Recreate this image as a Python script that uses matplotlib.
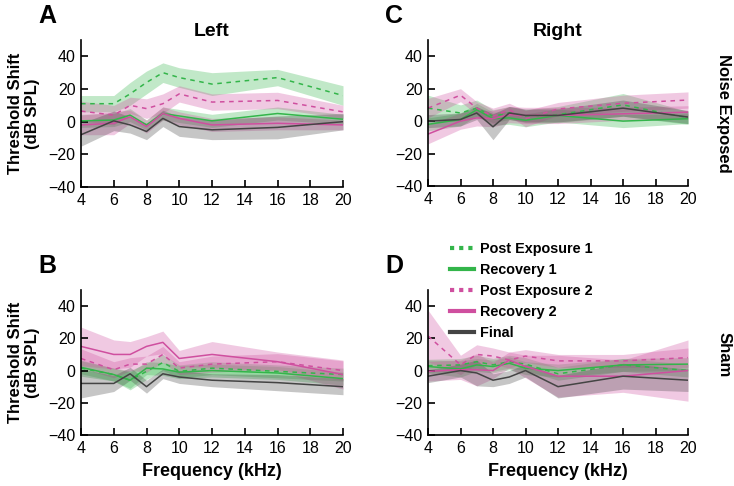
import matplotlib
matplotlib.use("Agg")
import matplotlib.pyplot as plt
from matplotlib.lines import Line2D
import numpy as np

plt.rcParams['font.family'] = ['Liberation Sans', 'DejaVu Sans']

# Frequencies tested (kHz)
FREQS = [4, 6, 7, 8, 9, 10, 12, 16, 20]

SERIES = ["Post Exposure 1", "Recovery 1", "Post Exposure 2", "Recovery 2", "Final"]

# Panel A - left ear, noise exposed
A_PE1 = [11, 11, 17, 24, 30, 27, 23, 27, 16]
A_PE1_ERR = [5, 5, 7, 7, 6, 6, 7, 5, 6]
A_R1 = [0.5, 1, 4, -2, 5, 3.5, 0.5, 5, 1.5]
A_R1_ERR = [4, 4, 4, 3, 4, 4, 4, 4, 3]
A_PE2 = [6.5, 4, 10, 8, 11, 17, 12, 13, 6]
A_PE2_ERR = [6, 6, 5, 6, 6, 5, 5, 5, 4]
A_R2 = [-2, -1, 3, -3, 5, 2, -2, -1, -2]
A_R2_ERR = [6, 7, 4, 4, 4, 4, 4, 4, 3]
A_FIN = [-8, 0.5, -2, -6, 2, -3, -5, -3.5, 0]
A_FIN_ERR = [7, 6, 5, 5, 5, 6, 6, 7, 5]

# Panel C - right ear, noise exposed
C_PE1 = [8, 5, 8, 3, 5, 3, 4, 10, 2]
C_PE1_ERR = [8, 5, 5, 4, 4, 4, 5, 7, 4]
C_R1 = [-2, 1, 7, 1.5, 2, 0.5, 3.5, 0, 1.5]
C_R1_ERR = [4, 4, 4, 4, 4, 4, 4, 4, 3]
C_PE2 = [8, 16, 8, 3, 7, 1.5, 7.5, 11, 13]
C_PE2_ERR = [6, 4, 4, 5, 4, 5, 4, 5, 5]
C_R2 = [-8, 0, 2, 1.5, 4, 3.5, 3.5, 4.5, 5.5]
C_R2_ERR = [6, 5, 5, 5, 5, 5, 5, 4, 4]
C_FIN = [0, 1, 5, -3.5, 5, 3.5, 3.5, 8, 2.5]
C_FIN_ERR = [4, 4, 4, 8, 4, 4, 4, 5, 4]

# Panel B - left ear, sham
B_PE1 = [1.5, -2.5, -6, -0.5, 5, -0.5, 1.5, -0.5, -2.5]
B_PE1_ERR = [5, 4, 6, 5, 5, 4, 4, 4, 4]
B_R1 = [2, -2.5, -6, 1.5, 1, -1, 0, -1.5, -5]
B_R1_ERR = [4, 4, 5, 4, 4, 4, 4, 4, 4]
B_PE2 = [7.5, 0.5, 4, 4, 10, 1.5, 4, 5.5, 0]
B_PE2_ERR = [6, 5, 4, 5, 5, 4, 5, 5, 6]
B_R2 = [15, 10, 10, 15, 17.5, 7.5, 10, 5.5, -2.5]
B_R2_ERR = [12, 9, 8, 6, 7, 5, 8, 6, 9]
B_FIN = [-8, -8, -2, -10, -2, -4, -6, -7.5, -10]
B_FIN_ERR = [9, 5, 4, 4, 3, 4, 4, 5, 5]

# Panel D - right ear, sham
D_PE1 = [3, 3.5, 5.5, 3.5, 5.5, 4, -2, 3.5, 0]
D_PE1_ERR = [4, 4, 4, 4, 4, 4, 4, 4, 4]
D_R1 = [2.5, 1, 3.5, 2.5, 4.5, 1.5, 0, 3.5, 4]
D_R1_ERR = [4, 5, 4, 4, 4, 4, 4, 4, 4]
D_PE2 = [21.5, 3.5, 10, 9, 6.5, 9, 6, 6, 8]
D_PE2_ERR = [16, 6, 6, 5, 5, 4, 4, 4, 6]
D_R2 = [-0.5, 0.5, 0.5, 0, 6.5, 2.5, -3.5, -3.5, 0]
D_R2_ERR = [6, 6, 10, 5, 5, 7, 13, 10, 19]
D_FIN = [-3.5, 0, -1.5, -6, -4, 0, -10, -3.5, -6]
D_FIN_ERR = [4, 4, 8, 4, 4, 4, 7, 8, 7]

GREEN = "#33b54a"
PINK = "#cf4f9f"
DARK = "#444444"
COLORS = [GREEN, GREEN, PINK, PINK, DARK]
STYLES = [(0, (3, 3)), "-", (0, (3, 3)), "-", "-"]
BAND_ALPHA = 0.3


def draw_panel(ax, means, errs):
    x = np.array(FREQS)
    for m, e, c in zip(means, errs, COLORS):
        m = np.array(m)
        e = np.array(e)
        ax.fill_between(x, m - e, m + e, color=c, alpha=BAND_ALPHA, lw=0)
    for m, c, ls in zip(means, COLORS, STYLES):
        ax.plot(x, m, color=c, ls=ls, lw=1.1)
    ax.set_xlim(4, 20)
    ax.set_ylim(-40, 50)
    ax.set_xticks(range(4, 21, 2))
    ax.set_yticks(range(-40, 41, 20))
    ax.spines['top'].set_visible(False)
    ax.spines['right'].set_visible(False)
    ax.spines['left'].set_linewidth(1.2)
    ax.spines['bottom'].set_linewidth(1.2)
    ax.tick_params(direction='in', length=5, width=1.2, labelsize=11.5, pad=4)


W, H = 734, 486
fig = plt.figure(figsize=(W / 100, H / 100), dpi=100)

def axes_px(left, right, top, bottom):
    return fig.add_axes([left / W, 1 - bottom / H, (right - left) / W, (bottom - top) / H])

axA = axes_px(81, 343, 40, 187)
axC = axes_px(428, 688, 40, 186)
axB = axes_px(81, 343, 290, 435)
axD = axes_px(428, 688, 290, 435)

draw_panel(axA, [A_PE1, A_R1, A_PE2, A_R2, A_FIN], [A_PE1_ERR, A_R1_ERR, A_PE2_ERR, A_R2_ERR, A_FIN_ERR])
draw_panel(axC, [C_PE1, C_R1, C_PE2, C_R2, C_FIN], [C_PE1_ERR, C_R1_ERR, C_PE2_ERR, C_R2_ERR, C_FIN_ERR])
draw_panel(axB, [B_PE1, B_R1, B_PE2, B_R2, B_FIN], [B_PE1_ERR, B_R1_ERR, B_PE2_ERR, B_R2_ERR, B_FIN_ERR])
draw_panel(axD, [D_PE1, D_R1, D_PE2, D_R2, D_FIN], [D_PE1_ERR, D_R1_ERR, D_PE2_ERR, D_R2_ERR, D_FIN_ERR])

# Titles, panel letters and labels
axA.set_title("Left", fontsize=14, fontweight='bold', pad=3)
axC.set_title("Right", fontsize=14, fontweight='bold', pad=3)
for ax in (axA, axB):
    ax.set_ylabel("Threshold Shift\n(dB SPL)", fontsize=12, fontweight='bold', labelpad=6, linespacing=1.15)
for ax in (axB, axD):
    ax.set_xlabel("Frequency (kHz)", fontsize=13, fontweight='bold', labelpad=5)

for letter, px, py in [("A", 38, 16), ("C", 385, 16), ("B", 38, 266), ("D", 385, 266)]:
    fig.text(px / W, 1 - py / H, letter, fontsize=18, fontweight='bold', va='center', ha='left')

fig.text(724 / W, 1 - 113 / H, "Noise Exposed", rotation=270, fontsize=12, fontweight='bold',
         ha='center', va='center')
fig.text(724 / W, 1 - 355 / H, "Sham", rotation=270, fontsize=12, fontweight='bold',
         ha='center', va='center')

handles = [Line2D([], [], color=c, lw=3, ls=(0, (1, 1.2)) if i in (0, 2) else "-")
           for i, c in enumerate(COLORS)]
leg = fig.legend(handles, SERIES, loc='upper left', bbox_to_anchor=(450 / W, 1 - 242 / H),
                 frameon=False, prop={'weight': 'bold', 'size': 10.4}, handlelength=1.65,
                 handletextpad=0.45, labelspacing=0.48, borderpad=0, borderaxespad=0)

fig.savefig("out.png", dpi=100)
